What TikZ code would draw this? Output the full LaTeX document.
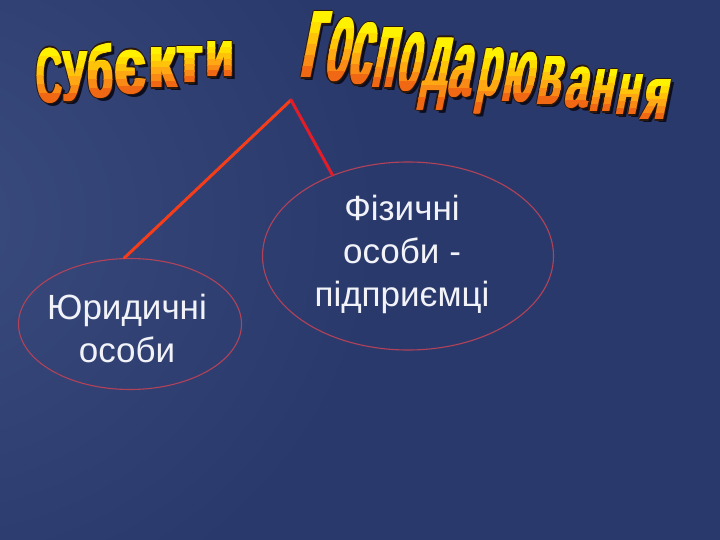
\documentclass[tikz,border=0pt]{standalone}
\usepackage{fontspec}
\setmainfont{Liberation Sans}
\usepackage{graphicx}
\usetikzlibrary{shapes.geometric}
\definecolor{bgbase}{RGB}{42,57,108}
\definecolor{bglight}{RGB}{58,75,126}
\definecolor{ovalc}{RGB}{178,66,88}
\definecolor{lineLc}{RGB}{245,62,25}
\definecolor{lineRc}{RGB}{228,28,40}
\definecolor{txtc}{RGB}{242,243,248}
\definecolor{waedge}{RGB}{45,25,12}
\definecolor{washadow}{RGB}{12,14,32}
\definecolor{wa0}{RGB}{255,242,0}
\definecolor{wa1}{RGB}{255,222,0}
\definecolor{wa2}{RGB}{255,196,10}
\definecolor{wa3}{RGB}{255,168,20}
\definecolor{wa4}{RGB}{250,138,22}
\definecolor{wa5}{RGB}{240,104,20}
\newcommand\WAL[6]{%
  \pgfmathsetmacro\wah{#4-#3}%
  \pgfmathsetmacro\wax{#1-#5*\wah/2}%
  \begin{scope}[shift={(\wax,#4)}]
    \foreach \dx in {2.4,4} {
      \node[walb,text=washadow,xslant=#5] at (\dx,3) {\resizebox*{#2pt}{\wah pt}{#6}};}
    \foreach \dx/\dy in {-2.4/0,2.4/0,-1.2/-1.3,1.2/-1.3,-1.2/1.3,1.2/1.3,0/-1.4,0/1.4} {
      \node[walb,text=waedge,xslant=#5] at (\dx,\dy) {\resizebox*{#2pt}{\wah pt}{#6}};}
    \foreach \k/\c in {0/wa0,1/wa1,2/wa2,3/wa3,4/wa4,5/wa5} {
      \begin{scope}
        \clip (-45,{-\wah+\k*\wah/6-0.3}) rectangle (45,{-\wah+(\k+1)*\wah/6+0.3});
        \foreach \dx in {-1.1,-0.4,0.4,1.1} {
          \node[walb,text=\c,xslant=#5] at (\dx,0) {\resizebox*{#2pt}{\wah pt}{#6}};}
      \end{scope}}
  \end{scope}}
\begin{document}
\begin{tikzpicture}[x=1pt,y=-1pt,
  walb/.style={inner sep=0pt,outer sep=0pt,anchor=south,font=\fontsize{20}{20}\selectfont\bfseries},
  oval/.style={ellipse,draw=ovalc,line width=1.1pt,inner sep=0pt},
  lbl/.style={text=txtc,align=center,font=\fontsize{35}{43}\selectfont,inner sep=0pt},
  lineL/.style={draw=lineLc,line width=3pt,line cap=round},
  lineR/.style={draw=lineRc,line width=3pt,line cap=round}]
\useasboundingbox (0,0) rectangle (720,540);
\fill[bgbase] (0,0) rectangle (720,540);
\begin{scope}
  \clip (0,0) rectangle (720,540);
  \shade[inner color=bglight,outer color=bgbase] (-80,220) ellipse (460 and 420);
\end{scope}
% title: Субєкти
\WAL{49.5}{26}{48}{103}{0}{С}
\WAL{75}{25}{52}{102}{0}{у}
\WAL{100.5}{25}{43}{98}{0}{б}
\WAL{130.5}{31}{50}{94}{0}{є}
\WAL{163}{28}{48}{88}{0}{к}
\WAL{190}{26}{47}{83}{0}{т}
\WAL{220}{29}{42}{77}{0}{и}
% title: господарювання
\WAL{316}{21}{12}{78}{0.2}{г}
\WAL{341}{23}{18}{82}{0.2}{о}
\WAL{364}{22}{23}{85}{0.2}{с}
\WAL{388}{23}{28}{88}{0.2}{п}
\WAL{412}{22}{33}{92}{0.2}{о}
\WAL{437}{25}{38}{110}{0.2}{д}
\WAL{463}{23}{45}{97}{0.2}{а}
\WAL{490}{23}{48}{114}{0.2}{р}
\WAL{521}{31}{52}{102}{0.2}{ю}
\WAL{552}{23}{57}{105}{0.2}{в}
\WAL{579}{23}{67}{108}{0.2}{а}
\WAL{604}{23}{70}{112}{0.2}{н}
\WAL{630}{23}{75}{115}{0.2}{н}
\WAL{657}{24}{80}{120}{0.2}{я}
% ellipses
\node[oval,minimum width=223pt,minimum height=131pt] (le) at (130,324) {};
\node[lbl] (lt) at ([shift={(-3,4)}]le.center) {Юридичні\\особи};
\node[oval,minimum width=291pt,minimum height=188pt] (re) at (408,256) {};
\node[lbl] (rt) at ([shift={(-6,-2)}]re.center) {Фізичні\\особи -\\підприємці};
\coordinate (apex) at (291,100);
\draw[lineL] (apex) -- (le.95);
\draw[lineR] (apex) -- (re.133);
\end{tikzpicture}
\end{document}
